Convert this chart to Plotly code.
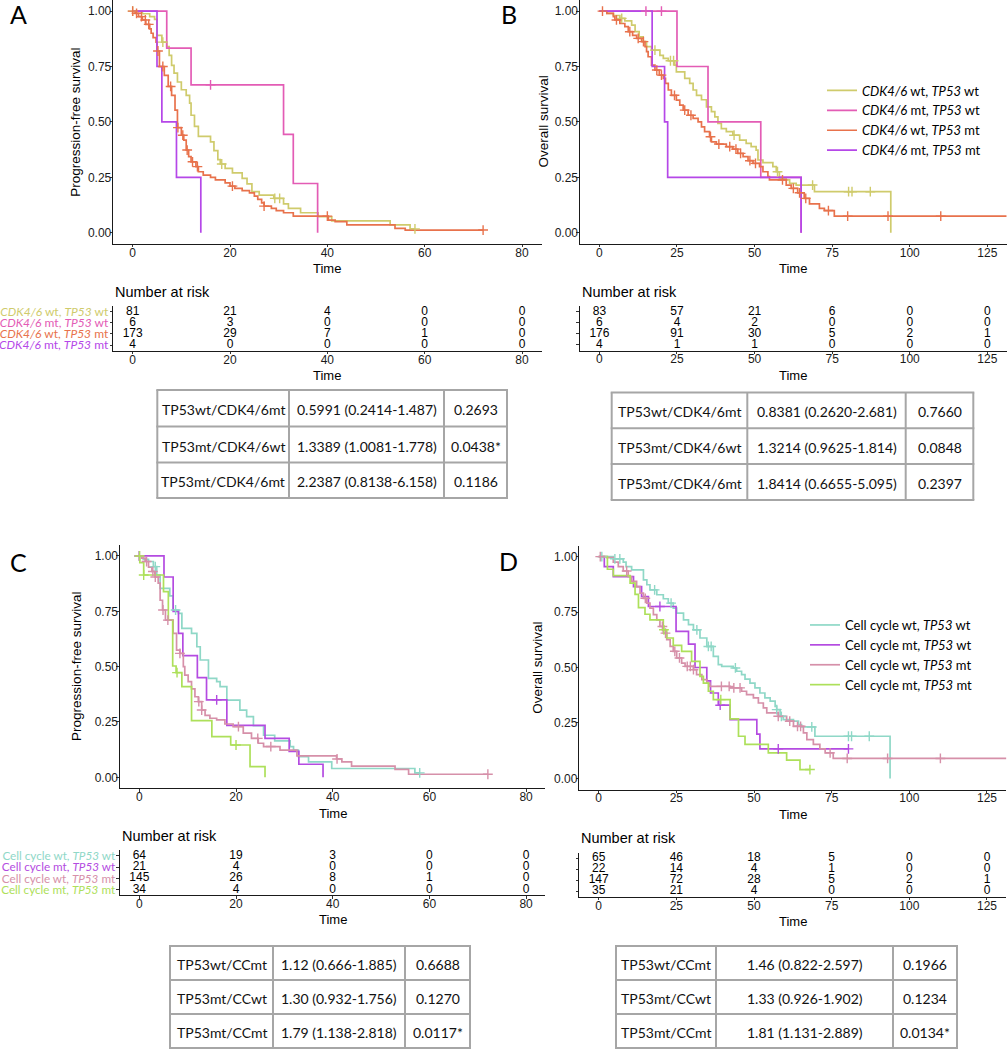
import plotly.graph_objects as go

W, H = 1008, 1050

# ---------------------------------------------------------------- data
GROUPS_AB = ["<i>CDK4/6</i> wt, <i>TP53</i> wt", "<i>CDK4/6</i> mt, <i>TP53</i> wt",
             "<i>CDK4/6</i> wt, <i>TP53</i> mt", "<i>CDK4/6</i> mt, <i>TP53</i> mt"]
GROUPS_CD = ["Cell cycle wt, <i>TP53</i> wt", "Cell cycle mt, <i>TP53</i> wt",
             "Cell cycle wt, <i>TP53</i> mt", "Cell cycle mt, <i>TP53</i> mt"]
COLORS_AB = ["#CFCB6C", "#E35CB5", "#E8724C", "#B547E8"]
COLORS_CD = ["#8FD8C7", "#B44BE1", "#D690A9", "#ADE05A"]

# ---- Panel A: progression-free survival (CDK4/6 x TP53)
A1_t = [0, 2, 3.5, 4.5, 5, 6, 7, 7.5, 8, 8.5, 9.2, 10, 11, 11.7, 12, 12.7, 13.5, 16, 16.7, 17.5, 18, 19,
        20.5, 22.5, 23.5, 24.5, 26, 29, 31, 32, 34.5, 38.1, 40.9, 52.9, 57, 58]
A1_s = [1, 0.988, 0.975, 0.963, 0.89, 0.86, 0.84, 0.80, 0.755, 0.72, 0.68, 0.645, 0.62, 0.585, 0.53, 0.48,
        0.435, 0.41, 0.37, 0.33, 0.31, 0.29, 0.27, 0.245, 0.22, 0.185, 0.17, 0.155, 0.13, 0.11, 0.09, 0.072,
        0.053, 0.035, 0.0175, 0.0175]
A1_c = [0, 6.2, 18.3, 29.2, 30.2, 58]
A2_t = [0, 7, 12, 31, 33, 38]
A2_s = [1, 0.833, 0.667, 0.444, 0.222, 0]
A2_c = [16]
A3_t = [0, 0.5, 1.2, 2, 2.7, 3.5, 3.8, 4.2, 4.8, 5, 5.5, 6.5, 7.3, 8, 8.7, 9.2, 10, 10.5, 11, 11.5, 12, 13,
        13.5, 14.5, 16, 17, 19, 20, 21, 22.5, 24, 25, 25.7, 26.5, 27, 28.5, 29.5, 31, 33, 40.2, 41.6, 44,
        53.9, 56, 72]
A3_s = [1, 0.99, 0.975, 0.96, 0.94, 0.92, 0.90, 0.88, 0.86, 0.82, 0.75, 0.71, 0.66, 0.62, 0.553, 0.474,
        0.44, 0.418, 0.373, 0.343, 0.32, 0.298, 0.275, 0.26, 0.25, 0.238, 0.225, 0.21, 0.20, 0.19, 0.18,
        0.165, 0.15, 0.135, 0.12, 0.11, 0.10, 0.09, 0.075, 0.057, 0.05, 0.035, 0.02, 0.012, 0.012]
A3_c = [0, 0.8, 1.8, 2.6, 3.3, 5.2, 6.2, 7.8, 9.3, 10.3, 11.2, 12.3, 13.3, 20.5, 27, 40, 72]
A4_t = [0, 5, 6, 9, 14]
A4_s = [1, 0.75, 0.5, 0.25, 0]
A4_c = []

# ---- Panel B: overall survival (CDK4/6 x TP53)
B1_t = [0, 2.4, 4.5, 6.6, 8.2, 10.4, 11.5, 12.8, 14.1, 15.2, 16.8, 19.5, 20.6, 22.2, 24.3, 24.8, 27.5,
        29.1, 30.2, 31.3, 32.9, 34.5, 36.1, 37.2, 38.2, 39.3, 40.9, 43.0, 45.2, 47.3, 48.9, 50.5, 51.1,
        52.7, 55.9, 57.0, 58.0, 60.2, 61.3, 63.4, 69.3, 93.9]
B1_s = [1, 0.99, 0.98, 0.967, 0.956, 0.937, 0.907, 0.884, 0.862, 0.84, 0.824, 0.80, 0.787, 0.776, 0.756,
        0.726, 0.696, 0.674, 0.644, 0.62, 0.60, 0.568, 0.546, 0.523, 0.493, 0.47, 0.456, 0.44, 0.418, 0.403,
        0.388, 0.373, 0.328, 0.316, 0.298, 0.275, 0.245, 0.238, 0.223, 0.215, 0.185, 0]
B1_c = [7.2, 17.9, 22.9, 23.9, 43.4, 57.4, 68.7, 80.3, 81.4, 87.3]
B2_t = [0, 25, 35, 52, 65]
B2_s = [1, 0.75, 0.5, 0.25, 0]
B2_c = [15, 20]
B3_t = [0, 2.4, 4.5, 5.0, 6.6, 8.2, 9.3, 10.7, 12.0, 13.6, 14.7, 15.2, 15.7, 16.8, 17.9, 19.3, 20.6, 21.3,
        22.2, 23.2, 24.8, 25.9, 27.0, 28.6, 30.2, 31.8, 32.9, 33.9, 35.5, 36.1, 37.7, 40.9, 43.0, 44.6,
        46.3, 47.9, 49.5, 51.6, 52.7, 54.3, 54.8, 60.2, 61.8, 63.9, 66.0, 67.7, 70.9, 72.5, 75.7, 131.25]
B3_s = [1, 0.99, 0.975, 0.96, 0.944, 0.93, 0.907, 0.89, 0.877, 0.862, 0.84, 0.817, 0.794, 0.756, 0.734,
        0.711, 0.696, 0.674, 0.644, 0.62, 0.598, 0.576, 0.553, 0.53, 0.516, 0.5, 0.478, 0.456, 0.433, 0.41,
        0.40, 0.388, 0.377, 0.358, 0.343, 0.325, 0.313, 0.298, 0.275, 0.253, 0.238, 0.215, 0.2, 0.18,
        0.155, 0.13, 0.11, 0.10, 0.075, 0.075]
B3_c = [1, 5.5, 9.8, 12.5, 14.2, 18.5, 20, 24.2, 27.5, 29.5, 35.8, 38.5, 42, 44, 45.5, 48.5, 50.3, 59,
        62.5, 64.5, 66.5, 73.8, 80, 93, 110]
B4_t = [0, 17, 21, 22, 65]
B4_s = [1, 0.75, 0.5, 0.25, 0]
B4_c = []

# ---- Panel C: progression-free survival (cell cycle x TP53)
C1_t = [0, 0.8, 1.9, 2.9, 3.6, 4.3, 6.3, 7.0, 8.1, 8.8, 10.8, 11.9, 12.6, 14.3, 16.0, 16.7, 18.1, 20.8,
        22.2, 23.6, 25.7, 28.0, 31.2, 31.9, 32.9, 35.0, 39.8, 57.0, 58.0]
C1_s = [1, 0.985, 0.975, 0.952, 0.914, 0.854, 0.82, 0.756, 0.741, 0.673, 0.65, 0.59, 0.53, 0.447, 0.432,
        0.41, 0.349, 0.304, 0.274, 0.233, 0.19, 0.165, 0.139, 0.123, 0.093, 0.07, 0.04, 0.02, 0.02]
C1_c = [0, 3.3, 7.5, 58]
C2_t = [0, 5.1, 7.0, 8.1, 9.0, 12.0, 13.9, 18.1, 26.0, 31.0, 33.0, 38.0]
C2_s = [1, 0.905, 0.75, 0.65, 0.55, 0.45, 0.35, 0.235, 0.176, 0.117, 0.059, 0]
C2_c = [0, 16]
C3_t = [0, 0.5, 1.2, 1.9, 2.6, 3.2, 3.9, 4.3, 4.8, 5.4, 7.0, 7.7, 8.4, 9.1, 9.4, 10.1, 10.8, 11.5, 12.2,
        12.9, 13.6, 14.6, 16.0, 17.7, 19.4, 21.5, 23.2, 24.6, 25.7, 29.1, 32.6, 40.8, 41.9, 43.9, 52.9,
        55.7, 72.1]
C3_s = [1, 0.99, 0.975, 0.95, 0.93, 0.905, 0.877, 0.80, 0.756, 0.71, 0.65, 0.575, 0.56, 0.5, 0.462, 0.432,
        0.40, 0.364, 0.342, 0.304, 0.28, 0.267, 0.26, 0.241, 0.229, 0.2, 0.176, 0.154, 0.139, 0.123, 0.097,
        0.083, 0.07, 0.051, 0.036, 0.014, 0.014]
C3_c = [0, 1.5, 2.8, 3.3, 4.9, 5.9, 8.4, 12.3, 12.9, 20.5, 24.5, 27.2, 40.9, 72.1]
C4_t = [0, 0.1, 0.9, 5.0, 6.0, 6.9, 7.6, 8.8, 10.8, 15.0, 18.9, 22.9, 26.0]
C4_s = [1, 0.97, 0.914, 0.839, 0.71, 0.503, 0.473, 0.41, 0.256, 0.184, 0.146, 0.048, 0]
C4_c = [0.05, 0.9, 7.8, 20]

# ---- Panel D: overall survival (cell cycle x TP53)
D1_t = [0, 4.7, 7.9, 8.8, 10.6, 14.4, 15.5, 16.5, 18.7, 20.8, 22.4, 24.0, 25.1, 27.3, 28.9, 30.5, 32.6,
        34.8, 36.9, 38.5, 39.6, 43.3, 44.4, 46.0, 47.1, 48.7, 50.3, 51.9, 53.5, 55.2, 56.8, 57.3, 58.4,
        59.4, 62.7, 64.3, 65.3, 69.6, 93.8]
D1_s = [1, 0.99, 0.975, 0.955, 0.94, 0.895, 0.873, 0.85, 0.828, 0.81, 0.79, 0.768, 0.745, 0.715, 0.693,
        0.67, 0.633, 0.595, 0.55, 0.513, 0.505, 0.498, 0.483, 0.468, 0.448, 0.43, 0.408, 0.385, 0.363,
        0.348, 0.325, 0.31, 0.28, 0.265, 0.258, 0.243, 0.232, 0.19, 0]
D1_c = [1, 5.2, 6.8, 18, 23.3, 31.6, 35.3, 36.2, 44, 57.3, 58.8, 68.6, 80.4, 81.4, 87.1]
D2_t = [0, 1.8, 4.7, 11.2, 13.8, 16.0, 24.9, 28.9, 31.0, 34.8, 36.0, 38.5, 42.3, 50.9, 51.9, 80.4]
D2_s = [1, 0.955, 0.91, 0.865, 0.82, 0.775, 0.663, 0.605, 0.5, 0.44, 0.385, 0.33, 0.265, 0.2, 0.133, 0.133]
D2_c = [19.7, 39.1, 57.8, 80.4]
D3_t = [0, 2.6, 4.7, 6.3, 7.9, 9.5, 10.6, 12.2, 13.3, 14.4, 15.5, 16.5, 17.6, 18.7, 19.7, 20.8, 21.9, 23.0,
        24.0, 25.1, 26.7, 27.8, 30.5, 31.5, 33.2, 34.8, 35.8, 42.3, 46.0, 47.6, 49.8, 51.4, 53.0, 54.1,
        57.8, 60.5, 62.7, 65.9, 67.0, 69.1, 71.2, 72.9, 75.5, 131.25]
D3_s = [1, 0.995, 0.975, 0.955, 0.935, 0.91, 0.888, 0.865, 0.835, 0.812, 0.79, 0.768, 0.738, 0.715, 0.685,
        0.655, 0.625, 0.595, 0.573, 0.543, 0.52, 0.505, 0.49, 0.468, 0.445, 0.43, 0.415, 0.408, 0.393,
        0.378, 0.363, 0.34, 0.318, 0.295, 0.28, 0.258, 0.235, 0.205, 0.175, 0.153, 0.133, 0.115, 0.09, 0.09]
D3_c = [0.5, 9, 15, 20.5, 21.5, 24.5, 26, 28.5, 29.5, 30.5, 39.5, 42, 43.5, 45.5, 57.8, 61.5, 64, 65,
        74.5, 80, 93, 110]
D4_t = [0, 2.8, 4.7, 10.1, 11.7, 12.8, 14.9, 16.5, 20.8, 21.9, 24.0, 26.7, 29.9, 32.6, 33.7, 35.3, 36.9,
        42.3, 45.0, 47.1, 54.6, 60.5, 64.8, 68.0]
D4_s = [1, 0.943, 0.914, 0.88, 0.83, 0.77, 0.74, 0.715, 0.67, 0.633, 0.60, 0.573, 0.528, 0.46, 0.43, 0.393,
        0.355, 0.268, 0.19, 0.153, 0.115, 0.082, 0.04, 0.04]
D4_c = [21, 39.3, 68]

# ---- numbers at risk
RISK_T_PFS = [0, 20, 40, 60, 80]
RISK_T_OS = [0, 25, 50, 75, 100, 125]
RISK_A = [[81, 21, 4, 0, 0], [6, 3, 0, 0, 0], [173, 29, 7, 1, 0], [4, 0, 0, 0, 0]]
RISK_B = [[83, 57, 21, 6, 0, 0], [6, 4, 2, 0, 0, 0], [176, 91, 30, 5, 2, 1], [4, 1, 1, 0, 0, 0]]
RISK_C = [[64, 19, 3, 0, 0], [21, 4, 0, 0, 0], [145, 26, 8, 1, 0], [34, 4, 0, 0, 0]]
RISK_D = [[65, 46, 18, 5, 0, 0], [22, 14, 4, 1, 0, 0], [147, 72, 28, 5, 2, 1], [35, 21, 4, 0, 0, 0]]

# ---- hazard-ratio tables (columns)
TAB_A = [["TP53wt/CDK4/6mt", "TP53mt/CDK4/6wt", "TP53mt/CDK4/6mt"],
         ["0.5991 (0.2414-1.487)", "1.3389 (1.0081-1.778)", "2.2387 (0.8138-6.158)"],
         ["0.2693", "0.0438*", "0.1186"]]
TAB_B = [["TP53wt/CDK4/6mt", "TP53mt/CDK4/6wt", "TP53mt/CDK4/6mt"],
         ["0.8381 (0.2620-2.681)", "1.3214 (0.9625-1.814)", "1.8414 (0.6655-5.095)"],
         ["0.7660", "0.0848", "0.2397"]]
TAB_C = [["TP53wt/CCmt", "TP53mt/CCwt", "TP53mt/CCmt"],
         ["1.12 (0.666-1.885)", "1.30 (0.932-1.756)", "1.79 (1.138-2.818)"],
         ["0.6688", "0.1270", "0.0117*"]]
TAB_D = [["TP53wt/CCmt", "TP53mt/CCwt", "TP53mt/CCmt"],
         ["1.46 (0.822-2.597)", "1.33 (0.926-1.902)", "1.81 (1.131-2.889)"],
         ["0.1966", "0.1234", "0.0134*"]]

PFS_TICKS = [0, 20, 40, 60, 80]
OS_TICKS = [0, 25, 50, 75, 100, 125]
SURV_TICKS = [0, 0.25, 0.5, 0.75, 1.0]

# ---------------------------------------------------------------- helpers
def dx(l, r):
    return [l / W, r / W]


def dy(top, bottom):
    return [1 - bottom / H, 1 - top / H]


def step_at(ts, ss, t):
    v = ss[0]
    for ti, si in zip(ts, ss):
        if ti <= t:
            v = si
        else:
            break
    return v


AX_FONT = dict(family="Arial, Liberation Sans", size=12, color="#1a1a1a")
LABEL_FONT = "Lato"

fig = go.Figure()

panels = [
    (1, [(A1_t, A1_s, A1_c), (A2_t, A2_s, A2_c), (A3_t, A3_s, A3_c), (A4_t, A4_s, A4_c)], COLORS_AB, GROUPS_AB, None),
    (2, [(B1_t, B1_s, B1_c), (B2_t, B2_s, B2_c), (B3_t, B3_s, B3_c), (B4_t, B4_s, B4_c)], COLORS_AB, GROUPS_AB, "legend"),
    (3, [(C1_t, C1_s, C1_c), (C2_t, C2_s, C2_c), (C3_t, C3_s, C3_c), (C4_t, C4_s, C4_c)], COLORS_CD, GROUPS_CD, None),
    (4, [(D1_t, D1_s, D1_c), (D2_t, D2_s, D2_c), (D3_t, D3_s, D3_c), (D4_t, D4_s, D4_c)], COLORS_CD, GROUPS_CD, "legend2"),
]

for idx, curves, cols, names, leg in panels:
    xa = "x" if idx == 1 else f"x{idx}"
    ya = "y" if idx == 1 else f"y{idx}"
    for (t, s, c), col, nm in zip(curves, cols, names):
        kw = dict(legend=leg) if leg else {}
        fig.add_trace(go.Scatter(x=t, y=s, mode="lines", name=nm,
                                 line=dict(shape="hv", color=col, width=1.7),
                                 showlegend=leg is not None, xaxis=xa, yaxis=ya,
                                 hoverinfo="skip", **kw))
    for (t, s, c), col, nm in zip(curves, cols, names):
        if not c:
            continue
        fig.add_trace(go.Scatter(x=c, y=[step_at(t, s, ci) for ci in c], mode="markers",
                                 marker=dict(symbol="cross-thin", size=7, color=col,
                                             line=dict(color=col, width=1.4)),
                                 showlegend=False, xaxis=xa, yaxis=ya, hoverinfo="skip",
                                 cliponaxis=False))

# risk tables
risk_sets = [(5, RISK_T_PFS, RISK_A), (6, RISK_T_OS, RISK_B), (7, RISK_T_PFS, RISK_C), (8, RISK_T_OS, RISK_D)]
for idx, times, rows in risk_sets:
    for r, vals in enumerate(rows):
        fig.add_trace(go.Scatter(x=times, y=[4 - r] * len(times), mode="text",
                                 text=[str(v) for v in vals], textposition="middle center",
                                 textfont=dict(family="Arial, Liberation Sans", size=12, color="black"),
                                 showlegend=False, xaxis=f"x{idx}", yaxis=f"y{idx}",
                                 hoverinfo="skip", cliponaxis=False))

# ---------------------------------------------------------------- axes
def base_axis(**kw):
    d = dict(showline=True, linecolor="#1a1a1a", linewidth=1.1, ticks="outside", ticklen=2.5,
             tickwidth=1, tickcolor="#333", showgrid=False, zeroline=False, tickfont=AX_FONT,
             fixedrange=True, automargin=False)
    d.update(kw)
    return d


def risk_labels(names, cols):
    return [f"<span style='color:{c}'>{n}</span>" for n, c in zip(names, cols)]


geo = {
    # idx: (xl, xr, ytop, ybot, xrange, xticks)   -- pixel layout
    1: (113.2, 541.5, 0, 243.8, [-4, 84], PFS_TICKS),
    2: (580, 1006.7, 0, 243.8, [-6.25, 131.25], OS_TICKS),
    3: (120, 545.4, 544.9, 788.4, [-4, 84], PFS_TICKS),
    4: (579.3, 1006.4, 545.5, 789.5, [-6.25, 131.25], OS_TICKS),
    5: (113.2, 541.5, 306, 350.6, [-4, 84], PFS_TICKS),
    6: (580, 1006.7, 306, 350.5, [-6.25, 131.25], OS_TICKS),
    7: (120, 545.4, 850.3, 895.3, [-4, 84], PFS_TICKS),
    8: (579.3, 1006.4, 853, 896.8, [-6.25, 131.25], OS_TICKS),
}
lay = {}
for idx, (xl, xr, yt, yb, xr_, xt) in geo.items():
    xk = "xaxis" if idx == 1 else f"xaxis{idx}"
    yk = "yaxis" if idx == 1 else f"yaxis{idx}"
    xa = "x" if idx == 1 else f"x{idx}"
    ya = "y" if idx == 1 else f"y{idx}"
    lay[xk] = base_axis(domain=dx(xl, xr), range=xr_, tickvals=xt, anchor=ya, ticklabelstandoff=-5)
    if idx <= 4:
        lay[yk] = base_axis(domain=dy(yt, yb), range=[-0.05, 1.05], tickvals=SURV_TICKS,
                            ticktext=[f"{v:.2f}" for v in SURV_TICKS], anchor=xa,
                            ticklabelstandoff=-4)
    else:
        ykw = dict(domain=dy(yt, yb), range=[0.5, 4.5], tickvals=[4, 3, 2, 1], anchor=xa,
                   ticklabelstandoff=-1)
        if idx == 5:
            ykw.update(ticktext=risk_labels(GROUPS_AB, COLORS_AB),
                       tickfont=dict(family=LABEL_FONT, size=12))
        elif idx == 7:
            ykw.update(ticktext=risk_labels(GROUPS_CD, COLORS_CD),
                       tickfont=dict(family=LABEL_FONT, size=11.7))
        else:
            ykw.update(showticklabels=False)
        lay[yk] = base_axis(**ykw)

ann = []
shapes = []


def txt(x, y, s, size, family="Arial, Liberation Sans", xanchor="center", angle=0, color="black"):
    ann.append(dict(x=x / W, y=1 - y / H, xref="paper", yref="paper", text=s, showarrow=False,
                    xanchor=xanchor, yanchor="middle", textangle=angle,
                    font=dict(family=family, size=size, color=color)))


def hline(x0, x1, y, color, width):
    shapes.append(dict(type="line", xref="paper", yref="paper", x0=x0 / W, x1=x1 / W,
                       y0=1 - y / H, y1=1 - y / H, line=dict(color=color, width=width)))


def vline(x, y0, y1, color, width):
    shapes.append(dict(type="line", xref="paper", yref="paper", x0=x / W, x1=x / W,
                       y0=1 - y0 / H, y1=1 - y1 / H, line=dict(color=color, width=width)))


# panel letters
txt(18, 14, "A", 25, LABEL_FONT)
txt(509, 14, "B", 25, LABEL_FONT)
txt(18, 562, "C", 25, LABEL_FONT)
txt(508, 561, "D", 25, LABEL_FONT)
# axis titles
for idx, ytime in [(1, 268), (2, 268), (3, 813), (4, 814), (5, 375.5), (6, 375.5), (7, 919.5), (8, 921)]:
    xl, xr = geo[idx][0], geo[idx][1]
    txt((xl + xr) / 2, ytime, "Time", 13)
txt(75.8, 122, "Progression-free survival", 13.5, angle=-90)
txt(543.5, 122, "Overall survival", 13.5, angle=-90)
txt(76.3, 666.6, "Progression-free survival", 13.5, angle=-90)
txt(537.2, 667.5, "Overall survival", 13.5, angle=-90)
# number at risk headers
txt(113.2, 291.5, "Number at risk", 14.5, xanchor="left")
txt(580, 291.5, "Number at risk", 14.5, xanchor="left")
txt(120, 835.5, "Number at risk", 14.5, xanchor="left")
txt(579.3, 838, "Number at risk", 14.5, xanchor="left")

# hazard-ratio tables: grid + centred cell text (pixel layout of the table grids)
TABLE_LAYOUT = [
    (TAB_A, [157.3, 289, 444, 507], [390, 426.5, 462.5, 498]),
    (TAB_B, [611.7, 747.3, 905.7, 973.3], [392.5, 428.3, 464, 500]),
    (TAB_C, [170, 273, 405, 470], [946, 980, 1014, 1048]),
    (TAB_D, [616, 716, 893, 957], [946, 980, 1014, 1048]),
]
GRID = "#A6A6A6"
for tab, xe, ye in TABLE_LAYOUT:
    for xv in xe:
        vline(xv, ye[0], ye[-1], GRID, 2)
    for yv in ye:
        hline(xe[0] - 1, xe[-1] + 1, yv, GRID, 2)
    for ci, col in enumerate(tab):
        for ri, val in enumerate(col):
            txt((xe[ci] + xe[ci + 1]) / 2, (ye[ri] + ye[ri + 1]) / 2 + 1.5, val, 14, LABEL_FONT,
                color="#111")

leg_common = dict(xanchor="left", yanchor="top", bgcolor="rgba(0,0,0,0)", borderwidth=0,
                  font=dict(family=LABEL_FONT, size=13, color="black"), itemwidth=30,
                  tracegroupgap=0)
fig.update_layout(
    width=W, height=H, margin=dict(l=0, r=0, t=0, b=0, autoexpand=False),
    paper_bgcolor="white", plot_bgcolor="white",
    annotations=ann, shapes=shapes,
    legend=dict(x=822 / W, y=1 - 75.5 / H, **leg_common),
    legend2=dict(x=805 / W, y=1 - 610 / H, **leg_common),
    **lay,
)

fig.write_html("out.html", config=dict(displayModeBar=False),
               post_script="document.body.style.margin='0';")
